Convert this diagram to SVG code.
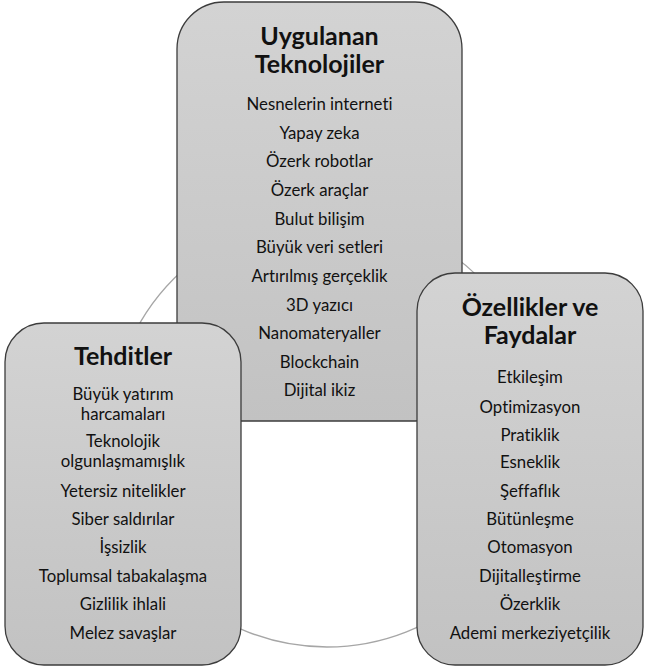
<svg xmlns="http://www.w3.org/2000/svg" width="647" height="672" viewBox="0 0 647 672">
  <defs>
    <linearGradient id="boxFill" x1="0" y1="0" x2="0" y2="1">
      <stop offset="0" stop-color="#d3d3d3"/>
      <stop offset="1" stop-color="#c2c2c2"/>
    </linearGradient>
    <style>
      .box { fill: url(#boxFill); stroke: #3c3c3c; stroke-width: 1.3; }
      .ring { fill: none; stroke: #a6a6a6; stroke-width: 1.3; }
      text { font-family: Lato, "Liberation Sans", sans-serif; fill: #111; text-anchor: middle;
             font-variant-ligatures: none; font-feature-settings: "liga" 0, "clig" 0; }
      .title { font-size: 25px; font-weight: bold; }
      .item { font-size: 16.8px; }
    </style>
  </defs>

  <!-- background ring linking the three groups -->
  <g id="connectors">
    <circle class="ring" cx="327" cy="431" r="216"/>
  </g>

  <!-- Applied technologies -->
  <g id="uygulanan-teknolojiler">
    <rect class="box" x="177" y="2" width="285" height="419" rx="47" ry="47"/>
    <text class="title" x="319.5" y="45">Uygulanan</text>
    <text class="title" x="319.5" y="73">Teknolojiler</text>
    <text class="item" x="319.5" y="110">Nesnelerin interneti</text>
    <text class="item" x="319.5" y="139">Yapay zeka</text>
    <text class="item" x="319.5" y="167">Özerk robotlar</text>
    <text class="item" x="319.5" y="196">Özerk araçlar</text>
    <text class="item" x="319.5" y="225">Bulut bilişim</text>
    <text class="item" x="319.5" y="253">Büyük veri setleri</text>
    <text class="item" x="319.5" y="282">Artırılmış gerçeklik</text>
    <text class="item" x="319.5" y="311">3D yazıcı</text>
    <text class="item" x="319.5" y="339">Nanomateryaller</text>
    <text class="item" x="319.5" y="368">Blockchain</text>
    <text class="item" x="319.5" y="396">Dijital ikiz</text>
  </g>

  <!-- Threats -->
  <g id="tehditler">
    <rect class="box" x="5" y="323" width="236" height="342" rx="39" ry="39"/>
    <text class="title" x="123" y="365">Tehditler</text>
    <text class="item" x="123" y="400">Büyük yatırım</text>
    <text class="item" x="123" y="420">harcamaları</text>
    <text class="item" x="123" y="447">Teknolojik</text>
    <text class="item" x="123" y="467">olgunlaşmamışlık</text>
    <text class="item" x="123" y="497">Yetersiz nitelikler</text>
    <text class="item" x="123" y="525">Siber saldırılar</text>
    <text class="item" x="123" y="553">İşsizlik</text>
    <text class="item" x="123" y="582">Toplumsal tabakalaşma</text>
    <text class="item" x="123" y="610">Gizlilik ihlali</text>
    <text class="item" x="123" y="639">Melez savaşlar</text>
  </g>

  <!-- Features and benefits -->
  <g id="ozellikler-ve-faydalar">
    <rect class="box" x="417" y="273" width="226" height="392" rx="38" ry="38"/>
    <text class="title" x="530" y="316">Özellikler ve</text>
    <text class="title" x="530" y="344">Faydalar</text>
    <text class="item" x="530" y="383">Etkileşim</text>
    <text class="item" x="530" y="413">Optimizasyon</text>
    <text class="item" x="530" y="441">Pratiklik</text>
    <text class="item" x="530" y="468">Esneklik</text>
    <text class="item" x="530" y="497">Şeffaflık</text>
    <text class="item" x="530" y="525">Bütünleşme</text>
    <text class="item" x="530" y="553">Otomasyon</text>
    <text class="item" x="530" y="582">Dijitalleştirme</text>
    <text class="item" x="530" y="610">Özerklik</text>
    <text class="item" x="530" y="639">Ademi merkeziyetçilik</text>
  </g>
</svg>
